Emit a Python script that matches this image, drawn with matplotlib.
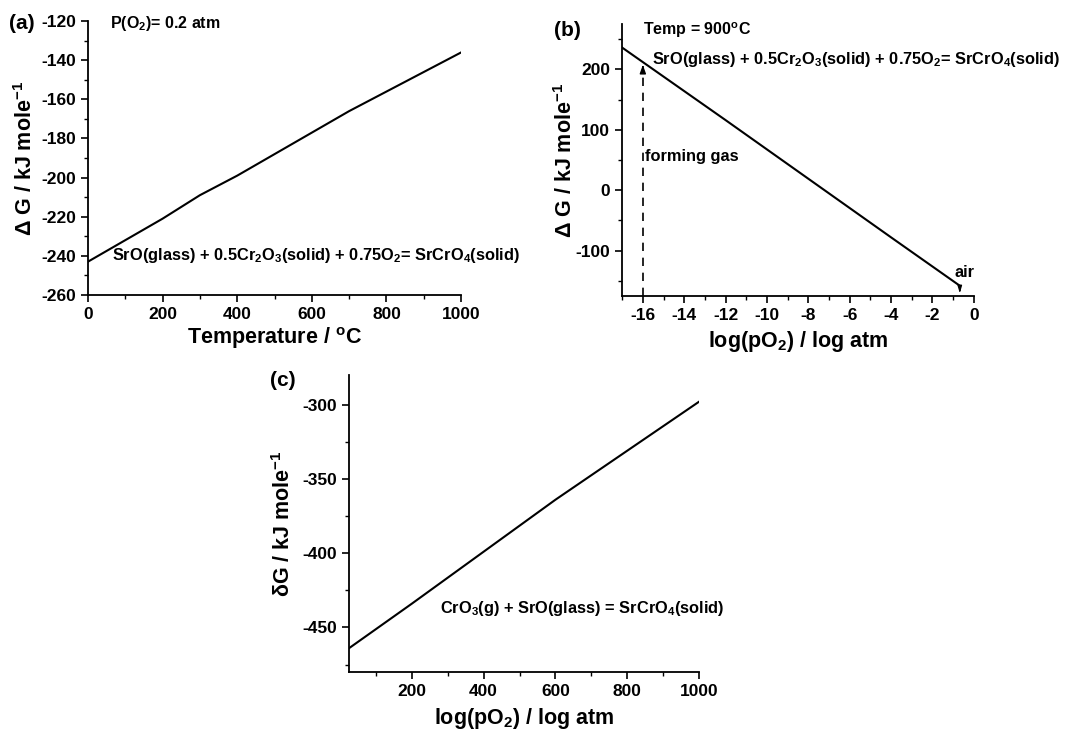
import matplotlib
matplotlib.use('Agg')
import matplotlib.pyplot as plt
from matplotlib.ticker import MultipleLocator

plt.rcParams['font.family'] = ['Liberation Sans', 'DejaVu Sans']
plt.rcParams['font.weight'] = 'bold'
plt.rcParams['axes.unicode_minus'] = False
plt.rcParams['mathtext.fontset'] = 'custom'
plt.rcParams['mathtext.rm'] = 'Liberation Sans:bold'
plt.rcParams['mathtext.bf'] = 'Liberation Sans:bold'
plt.rcParams['mathtext.it'] = 'Liberation Sans:bold'
plt.rcParams['mathtext.default'] = 'bf'

# (a) dG vs temperature at P(O2)=0.2 atm
a_temp = [0, 100, 200, 300, 400, 500, 600, 700, 800, 900, 1000]
a_dG = [-243, -232, -221, -209, -199, -188, -177, -166, -156, -146, -136]

# (b) dG vs log(pO2) at 900 C
b_logp = [-17, -16, -12, -8, -4, -0.68]
b_dG = [236, 212, 116, 19, -78, -158]
b_forming_gas = -16
b_air = -0.68

# (c) dG for CrO3(g) + SrO(glass)
c_x = [25, 200, 400, 600, 800, 1000]
c_dG = [-464, -434, -399, -364, -331, -298]

fig = plt.figure(figsize=(10.69, 7.30), dpi=100)
ax_a = fig.add_axes([0.0823, 0.596, 0.349, 0.375])
ax_b = fig.add_axes([0.582, 0.5945, 0.329, 0.3726])
ax_c = fig.add_axes([0.3265, 0.0795, 0.3274, 0.4068])


def style(ax):
    for s in ['top', 'right']:
        ax.spines[s].set_visible(False)
    for s in ['left', 'bottom']:
        ax.spines[s].set_linewidth(1.3)
    ax.tick_params(which='major', direction='out', length=5, width=1.2, labelsize=12.5)
    ax.tick_params(which='minor', direction='out', length=3, width=1.0)
    for lab in ax.get_xticklabels() + ax.get_yticklabels():
        lab.set_fontweight('bold')


# panel a
ax_a.plot(a_temp, a_dG, color='black', lw=1.5)
ax_a.set_xlim(0, 1000)
ax_a.set_ylim(-260, -120)
ax_a.xaxis.set_major_locator(MultipleLocator(200))
ax_a.xaxis.set_minor_locator(MultipleLocator(100))
ax_a.yaxis.set_major_locator(MultipleLocator(20))
ax_a.yaxis.set_minor_locator(MultipleLocator(10))
style(ax_a)
ax_a.set_xlabel('Temperature / $^{o}$C', fontsize=15.5, fontweight='bold')
ax_a.set_ylabel('$\\Delta$ G / kJ mole$^{-1}$', fontsize=15.5, fontweight='bold')
ax_a.xaxis.set_label_coords(0.5, -0.11)
ax_a.yaxis.set_label_coords(-0.137, 0.5)
ax_a.text(60, -121, 'P(O$_2$)= 0.2 atm', fontsize=11.5, fontweight='bold', va='center')
ax_a.text(64, -240, 'SrO(glass) + 0.5Cr$_2$O$_3$(solid) + 0.75O$_2$= SrCrO$_4$(solid)',
          fontsize=11.8, fontweight='bold', va='center')
fig.text(0.008, 0.968, '(a)', fontsize=15, fontweight='bold', va='center')

# panel b
ax_b.plot(b_logp, b_dG, color='black', lw=1.5)
ax_b.plot([b_forming_gas, b_forming_gas], [-175, 200], color='black', lw=1.2, ls=(0, (5, 4)))
ax_b.annotate('', xy=(b_forming_gas, 212), xytext=(b_forming_gas, 198),
              arrowprops=dict(arrowstyle='-|>,head_length=0.5,head_width=0.18', color='black', lw=1.0))
ax_b.annotate('', xy=(b_air, -175), xytext=(b_air, -158),
              arrowprops=dict(arrowstyle='-|>,head_length=0.4,head_width=0.12', color='black', lw=1.0))
ax_b.set_xlim(-17, 0)
ax_b.set_ylim(-175, 275)
ax_b.xaxis.set_major_locator(MultipleLocator(2))
ax_b.xaxis.set_minor_locator(MultipleLocator(1))
ax_b.yaxis.set_major_locator(MultipleLocator(100))
ax_b.yaxis.set_minor_locator(MultipleLocator(50))
style(ax_b)
ax_b.set_xlabel('log(pO$_2$) / log atm', fontsize=15.5, fontweight='bold')
ax_b.set_ylabel('$\\Delta$ G / kJ mole$^{-1}$', fontsize=15.5, fontweight='bold')
ax_b.xaxis.set_label_coords(0.5, -0.12)
ax_b.yaxis.set_label_coords(-0.128, 0.5)
ax_b.text(-16.0, 265, 'Temp = 900$^{o}$C', fontsize=11.5, fontweight='bold', va='center')
ax_b.text(-15.55, 216, 'SrO(glass) + 0.5Cr$_2$O$_3$(solid) + 0.75O$_2$= SrCrO$_4$(solid)',
          fontsize=11.8, fontweight='bold', va='center')
ax_b.text(-15.9, 55, 'forming gas', fontsize=11.8, fontweight='bold', va='center')
ax_b.text(-0.95, -136, 'air', fontsize=11.8, fontweight='bold', va='center')
fig.text(0.518, 0.958, '(b)', fontsize=15, fontweight='bold', va='center')

# panel c
ax_c.plot(c_x, c_dG, color='black', lw=1.5)
ax_c.set_xlim(25, 1000)
ax_c.set_ylim(-480, -280)
ax_c.xaxis.set_major_locator(MultipleLocator(200))
ax_c.xaxis.set_minor_locator(MultipleLocator(100))
ax_c.yaxis.set_major_locator(MultipleLocator(50))
ax_c.yaxis.set_minor_locator(MultipleLocator(25))
style(ax_c)
ax_c.set_xlabel('log(pO$_2$) / log atm', fontsize=15.5, fontweight='bold')
ax_c.set_ylabel('$\\delta$G / kJ mole$^{-1}$', fontsize=15.5, fontweight='bold')
ax_c.xaxis.set_label_coords(0.5, -0.115)
ax_c.yaxis.set_label_coords(-0.154, 0.5)
ax_c.text(278, -437, 'CrO$_3$(g) + SrO(glass) = SrCrO$_4$(solid)',
          fontsize=11.8, fontweight='bold', va='center')
fig.text(0.2525, 0.479, '(c)', fontsize=15, fontweight='bold', va='center')

fig.savefig('out.png', dpi=100)
